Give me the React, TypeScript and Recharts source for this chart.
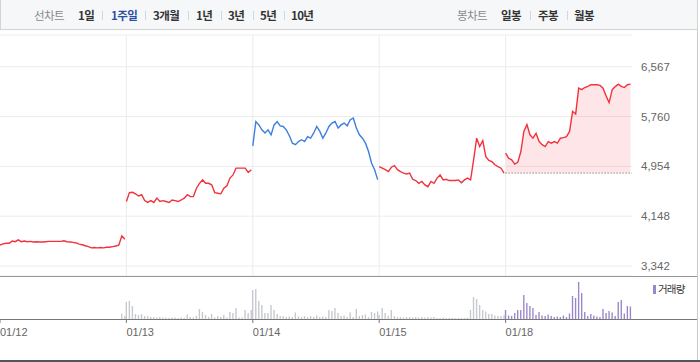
import React from "react";
import {
  Area,
  Bar,
  BarChart,
  CartesianGrid,
  Cell,
  ComposedChart,
  Line,
  ReferenceLine,
  XAxis,
  YAxis,
} from "recharts";

// one week of intraday prices, 42 samples per trading day
const DAYS = ["01/12", "01/13", "01/14", "01/15", "01/18"];
const PRICE_TICKS = [3342, 4148, 4954, 5760, 6567];
const PREV_CLOSE = 4845;

const day1Price = [
  3680, 3700, 3710, 3710, 3745, 3735, 3765, 3735, 3745, 3735,
  3740, 3730, 3735, 3730, 3730, 3735, 3740, 3740, 3740, 3740,
  3740, 3750, 3735, 3730, 3725, 3715, 3695, 3685, 3670, 3655,
  3635, 3640, 3635, 3640, 3635, 3645, 3645, 3655, 3665, 3680,
  3830, 3775,
];
const day2Price = [
  4385, 4530, 4535, 4510, 4475, 4495, 4400, 4370, 4400, 4370,
  4440, 4385, 4400, 4385, 4370, 4410, 4400, 4385, 4410, 4440,
  4495, 4465, 4465, 4600, 4680, 4735, 4680, 4680, 4655, 4530,
  4520, 4510, 4600, 4640, 4765, 4815, 4925, 4925, 4925, 4925,
  4855, 4900,
];
const day3Price = [
  5285, 5680, 5625, 5545, 5495, 5545, 5465, 5625, 5680, 5610,
  5600, 5545, 5450, 5330, 5305, 5355, 5385, 5355, 5435, 5410,
  5495, 5600, 5520, 5410, 5495, 5600, 5655, 5680, 5575, 5625,
  5655, 5610, 5710, 5735, 5575, 5465, 5410, 5330, 5195, 5005,
  4900, 4740,
];
const day4Price = [
  4950, 4925, 4900, 4870, 4940, 4965, 4900, 4870, 4845, 4830,
  4845, 4745, 4725, 4680, 4710, 4655, 4625, 4710, 4680, 4765,
  4815, 4735, 4745, 4725, 4725, 4725, 4735, 4690, 4735, 4765,
  4735, 5060, 5410, 5275, 5370, 5110, 5050, 5030, 4980, 4950,
  4925, 4845,
];
const day5Price = [
  5170, 5085, 5060, 4990, 5020, 5190, 5520, 5630, 5465, 5410,
  5490, 5355, 5305, 5275, 5355, 5330, 5355, 5330, 5410, 5420,
  5435, 5520, 5845, 5800, 6220, 6195, 6230, 6250, 6275, 6275,
  6275, 6265, 6220, 6095, 5985, 6195, 6245, 6285, 6250, 6230,
  6275, 6285,
];

// volume, thousand shares
const day1Vol = [
  0, 0, 0, 0, 0, 0, 0, 0, 0, 0, 0, 0, 0, 0, 0, 0, 0, 0, 0, 0, 0,
  0, 0, 0, 0, 0, 0, 0, 0, 0, 0, 0, 0, 0, 0, 0, 0, 0, 0, 0, 5.3, 3,
];
const day2Vol = [
  17, 18, 13, 5, 4, 5, 3, 3, 2, 2, 1.5, 2, 1.5, 1.5, 1, 1.5, 1.5, 1, 1.5, 1,
  4.5, 2, 1.5, 3, 10, 7, 4, 2, 5, 1.5, 3, 2, 4, 1.5, 7, 6, 11, 1.5, 1.5, 9,
  6, 9,
];
const day3Vol = [
  29, 30, 18, 14, 6, 6, 14, 9, 5, 3, 3, 2, 2.5, 2, 6.5, 2.5, 2, 3, 2, 3,
  2, 3.5, 2, 2.5, 2, 9, 8, 11, 6, 3, 3.5, 2, 6.5, 2, 10, 3, 4, 4.5, 2, 7,
  6, 7.5,
];
const day4Vol = [
  4, 11, 6, 3, 9, 3, 2, 2, 1.5, 2, 2, 1.5, 2, 1.5, 2, 1.5, 2, 1.5, 2, 1,
  1, 1.5, 1, 1, 1, 1, 1, 1, 1, 1.5, 9, 22, 20, 14, 9, 7.5, 5, 5, 3.5, 3,
  3, 3.5,
];
const day5Vol = [
  9, 3.5, 3, 6, 9, 9, 24, 16, 13, 11, 4, 7, 3.5, 3, 4.5, 3, 2, 2.5, 2, 3.5,
  2, 5.5, 23, 21, 37, 26, 7, 3, 5, 3.5, 2.5, 2, 10, 6, 8, 6.5, 3, 17, 19, 5.5,
  13, 12.5,
];

const prices = [day1Price, day2Price, day3Price, day4Price, day5Price];
const volumes = [day1Vol, day2Vol, day3Vol, day4Vol, day5Vol];
const lineColors = ["#f2323c", "#f2323c", "#3d7ee0", "#f2323c", "#f2323c"];

const rows: any[] = [];
prices.forEach((arr, d) => {
  arr.forEach((v, k) => {
    const row: any = { t: d + k / 41.5, vol: volumes[d][k], day: d };
    row[`p${d}`] = v;
    rows.push(row);
  });
});

const NUM_FONT = "'Liberation Sans', Arial, sans-serif";
const KR_FONT = "'Noto Sans CJK KR', 'Noto Sans', sans-serif";

const periodTabs = [
  { label: "1일", left: 77 },
  { label: "1주일", left: 110, active: true },
  { label: "3개월", left: 152 },
  { label: "1년", left: 195 },
  { label: "3년", left: 227 },
  { label: "5년", left: 259 },
  { label: "10년", left: 290 },
];
const candleTabs = [
  { label: "일봉", left: 500 },
  { label: "주봉", left: 537 },
  { label: "월봉", left: 573 },
];
const separators = [101, 144, 187, 220, 252, 283, 529, 566];

function Header() {
  const txt: React.CSSProperties = {
    position: "absolute",
    top: 0,
    lineHeight: "30px",
    fontSize: 11.5,
    letterSpacing: -0.6,
    fontFamily: KR_FONT,
    whiteSpace: "nowrap",
  };
  return (
    <div
      style={{
        position: "absolute",
        left: 0,
        top: 0,
        width: 698,
        height: 30,
        boxSizing: "border-box",
        background: "#f6f7f9",
        borderLeft: "1px solid #d3d3d3",
        borderRight: "1px solid #d3d3d3",
        borderBottom: "1px solid #d3d3d3",
      }}
    >
      <span style={{ ...txt, left: 33, color: "#8a8a8a" }}>선차트</span>
      {periodTabs.map((t) => (
        <span
          key={t.label}
          style={{
            ...txt,
            left: t.left,
            fontWeight: 700,
            color: t.active ? "#2c4fa3" : "#333",
          }}
        >
          {t.label}
        </span>
      ))}
      <span style={{ ...txt, left: 456, color: "#8a8a8a" }}>봉차트</span>
      {candleTabs.map((t) => (
        <span key={t.label} style={{ ...txt, left: t.left, fontWeight: 700, color: "#333" }}>
          {t.label}
        </span>
      ))}
      {separators.map((x) => (
        <div
          key={x}
          style={{ position: "absolute", left: x, top: 11, width: 1, height: 9, background: "#d6d6d6" }}
        />
      ))}
    </div>
  );
}

export default function App() {
  return (
    <div style={{ position: "relative", width: 700, height: 362, background: "#fff", overflow: "hidden" }}>
      <style>{"body{margin:0}"}</style>
      <Header />

      <div style={{ position: "absolute", left: 0, top: 0 }}>
        <ComposedChart width={700} height={276} data={rows} margin={{ top: 35, right: 0, left: 0, bottom: 0 }}>
          <CartesianGrid stroke="#ececec" vertical={false} />
          <XAxis
            dataKey="t"
            type="number"
            domain={[0, 5]}
            ticks={[1, 2, 3, 4]}
            height={0}
            hide
          />
          <YAxis
            orientation="right"
            width={68}
            domain={[3180, 7080]}
            ticks={PRICE_TICKS}
            axisLine={false}
            tickLine={false}
            tickMargin={3}
            tickFormatter={(v: number) => v.toLocaleString("en-US")}
            tick={{ fill: "#666", fontSize: 11.5, fontFamily: NUM_FONT }}
          />
          <Area
            dataKey="p4"
            baseValue={PREV_CLOSE}
            stroke="none"
            fill="#f7505e"
            fillOpacity={0.14}
            isAnimationActive={false}
          />
          {[1, 2, 3, 4].map((d) => (
            <ReferenceLine key={d} x={d} stroke="#ececec" />
          ))}
          <ReferenceLine
            segment={[
              { x: 4, y: PREV_CLOSE },
              { x: 5, y: PREV_CLOSE },
            ]}
            stroke="#555"
            strokeDasharray="1 2"
          />
          {prices.map((_, d) => (
            <Line
              key={d}
              dataKey={`p${d}`}
              stroke={lineColors[d]}
              strokeWidth={1.4}
              dot={false}
              activeDot={false}
              isAnimationActive={false}
            />
          ))}
        </ComposedChart>
      </div>

      {/* volume panel */}
      <div style={{ position: "absolute", left: 0, top: 276, width: 698, height: 1, background: "#959595" }} />
      <div style={{ position: "absolute", left: 0, top: 276 }}>
        <BarChart width={700} height={84} data={rows} margin={{ top: 3, right: 68, left: 0, bottom: 0 }}>
          <XAxis
            dataKey="t"
            type="number"
            domain={[0, 5]}
            ticks={[0, 1, 2, 3, 4]}
            interval={0}
            height={41}
            axisLine={false}
            tickLine={{ stroke: "#777" }}
            tickSize={4}
            tickMargin={5}
            tickFormatter={(v: number) => DAYS[v]}
            tick={{ fill: "#666", fontSize: 11, fontFamily: NUM_FONT, textAnchor: "start" }}
          />
          <YAxis hide domain={[0, 40]} />
          <Bar dataKey="vol" barSize={2} isAnimationActive={false}>
            {rows.map((r, i) => (
              <Cell key={i} fill={r.day === 4 ? "#9b86ca" : "#c5c8cd"} />
            ))}
          </Bar>
        </BarChart>
      </div>
      <div style={{ position: "absolute", left: 0, top: 319, width: 698, height: 1, background: "#777" }} />

      <div style={{ position: "absolute", left: 653, top: 285, width: 3, height: 9, background: "#9b86ca" }} />
      <div
        style={{
          position: "absolute",
          left: 658,
          top: 282,
          fontSize: 10.5,
          lineHeight: "14px",
          letterSpacing: -0.8,
          color: "#333",
          fontFamily: KR_FONT,
        }}
      >
        거래량
      </div>

      <div style={{ position: "absolute", left: 697, top: 30, width: 1, height: 330, background: "#c9c9c9" }} />
      <div style={{ position: "absolute", left: 0, top: 360, width: 700, height: 2, background: "#555" }} />
    </div>
  );
}
